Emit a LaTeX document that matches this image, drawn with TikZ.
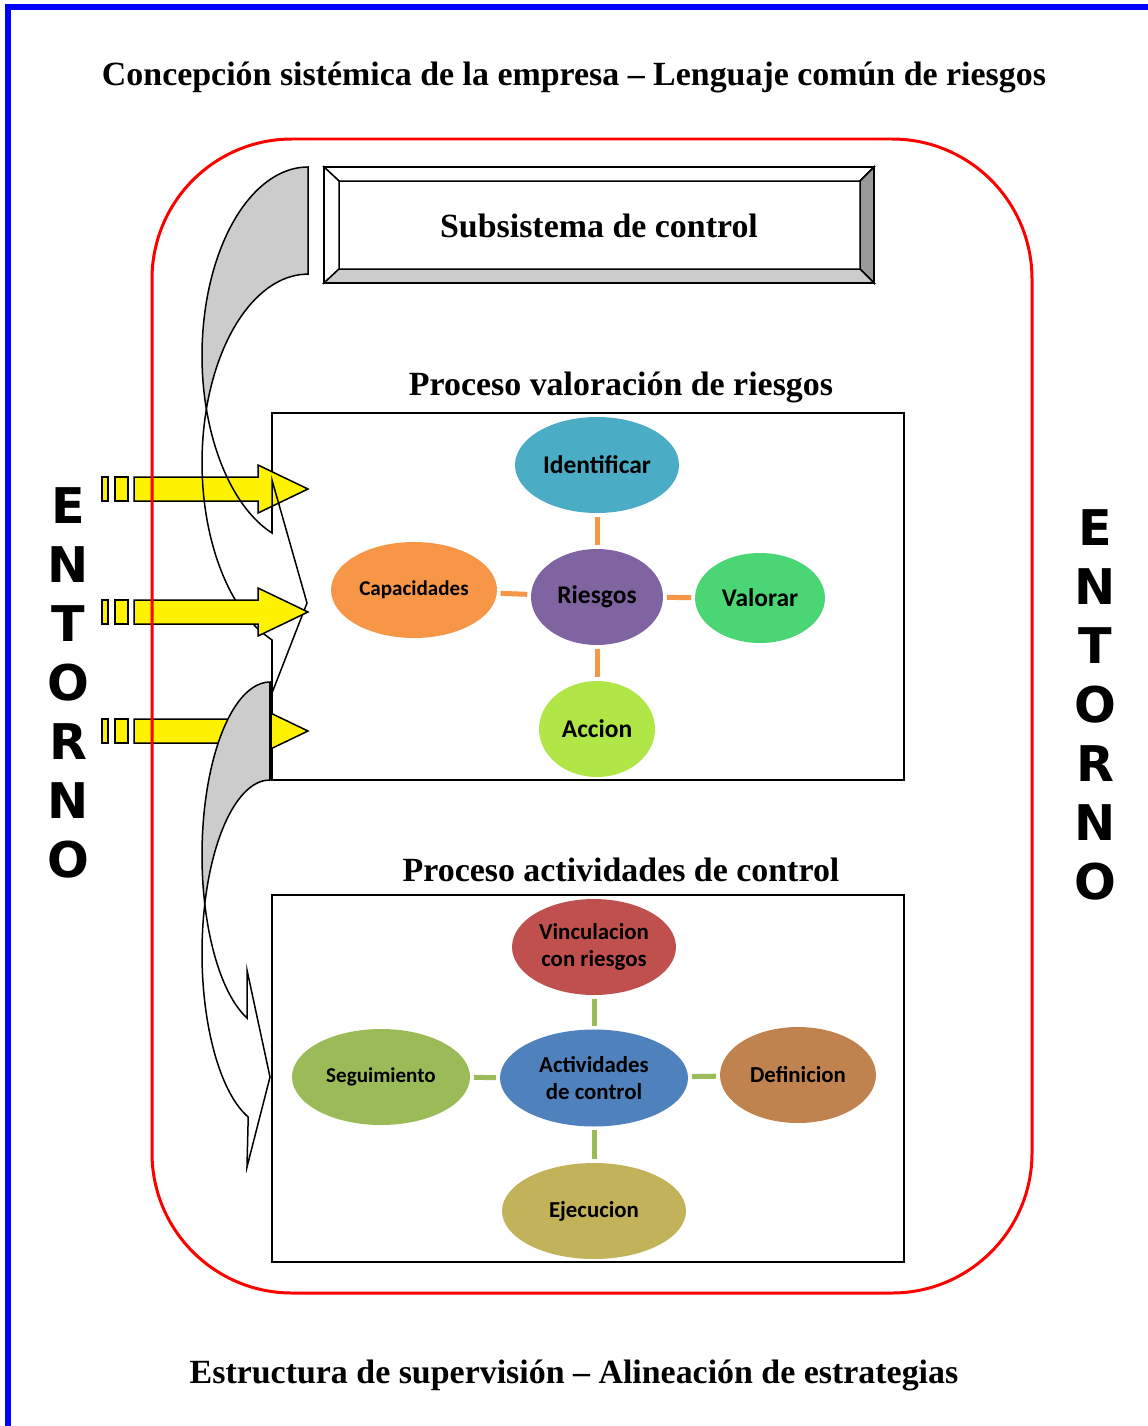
\documentclass[tikz,border=0pt]{standalone}
\usepackage{fontspec}
\setmainfont{Liberation Serif}
\newfontfamily\bubblefont{Carlito}
\newfontfamily\entornofont{DejaVu Sans}
\usetikzlibrary{shapes.geometric}
\definecolor{cIdent}{HTML}{4BACC6}
\definecolor{cRiesgo}{HTML}{8064A2}
\definecolor{cValorar}{HTML}{4AD675}
\definecolor{cAccion}{HTML}{B0E645}
\definecolor{cCapac}{HTML}{F79646}
\definecolor{cVincul}{HTML}{C0504D}
\definecolor{cActiv}{HTML}{4F81BD}
\definecolor{cSegui}{HTML}{9BBB59}
\definecolor{cDefin}{HTML}{C0834F}
\definecolor{cEjecu}{HTML}{C2B35A}
\definecolor{backgray}{HTML}{CCCCCC}
\definecolor{sidegray}{HTML}{999999}

\begin{document}
\begin{tikzpicture}[x=0.02cm,y=-0.02cm,
  heading/.style={inner sep=0pt, font=\fontsize{19.3}{23}\selectfont\bfseries},
  bubble/.style={ellipse, inner sep=0pt, align=center, font=\bubblefont\bfseries\fontsize{14.5}{15}\selectfont},
  riskline/.style={draw=cCapac, line width=0.1cm, shorten <=2pt, shorten >=2pt},
  ctrlline/.style={draw=cSegui, line width=0.1cm, shorten <=2pt, shorten >=2pt},
  yellowarrow/.style={fill=yellow, draw=black, line width=0.03cm},
  curvedline/.style={draw=black, line width=0.03cm},
  entorno/.style={align=center, inner sep=0pt, font=\entornofont\bfseries\fontsize{28}{33.6}\selectfont}]
\useasboundingbox (0,0) rectangle (1148,1426);
\fill[white] (0,0) rectangle (1148,1426);
\draw[blue, line width=0.12cm] (8,1440) -- (8,7) -- (1151,7) -- (1151,1440);

\node[heading] (titulo) at (574,77) {Concepción sistémica de la empresa – Lenguaje común de riesgos};
\node[heading] (pie) at (574,1375) {Estructura de supervisión – Alineación de estrategias};

\draw[line width=0.05cm] (272,413) rectangle (904,780);
\draw[line width=0.05cm] (272,895) rectangle (904,1262);
\node[heading] (valoracion) at (621,387) {Proceso valoración de riesgos};
\node[heading] (actividades) at (621,870) {Proceso actividades de control};

\node[bubble, fill=cIdent, minimum width=3.28cm, minimum height=1.92cm] (identificar) at (597,465) {Identificar};
\node[bubble, fill=cRiesgo, minimum width=2.64cm, minimum height=1.92cm] (riesgos) at (597,597) {Riesgos};
\node[bubble, fill=cValorar, minimum width=2.6cm, minimum height=1.8cm] (valorar) at (760,598) {Valorar};
\node[bubble, fill=cAccion, minimum width=2.32cm, minimum height=1.92cm] (accion) at (597,729) {Accion};
\node[bubble, fill=cCapac, minimum width=3.32cm, minimum height=1.92cm, font=\bubblefont\bfseries\fontsize{12}{14}\selectfont] (capacidades) at (414,590) {Capacidades};
\draw[riskline] (riesgos) -- (identificar);
\draw[riskline] (riesgos) -- (valorar);
\draw[riskline] (riesgos) -- (accion);
\draw[riskline] (riesgos) -- (capacidades);

\node[bubble, fill=cVincul, minimum width=3.28cm, minimum height=1.92cm, font=\bubblefont\bfseries\fontsize{13}{15}\selectfont] (vinculacion) at (594,947) {Vinculacion\\con riesgos};
\node[bubble, fill=cActiv, minimum width=3.76cm, minimum height=1.94cm, font=\bubblefont\bfseries\fontsize{13}{15}\selectfont] (actcontrol) at (594,1078) {Actividades\\de control};
\node[bubble, fill=cSegui, minimum width=3.56cm, minimum height=1.92cm, font=\bubblefont\bfseries\fontsize{12}{14}\selectfont] (seguimiento) at (381,1077) {Seguimiento};
\node[bubble, fill=cDefin, minimum width=3.12cm, minimum height=1.92cm, font=\bubblefont\bfseries\fontsize{13}{15}\selectfont] (definicion) at (798,1075) {Definicion};
\node[bubble, fill=cEjecu, minimum width=3.68cm, minimum height=1.92cm, font=\bubblefont\bfseries\fontsize{13}{15}\selectfont] (ejecucion) at (594,1211) {Ejecucion};
\draw[ctrlline] (actcontrol) -- (vinculacion);
\draw[ctrlline] (actcontrol) -- (definicion);
\draw[ctrlline] (actcontrol) -- (ejecucion);
\draw[ctrlline] (actcontrol) -- (seguimiento);

\draw[line width=0.03cm, fill=white] (324,167) -- (874,167) -- (860,181) -- (339,181) -- cycle;
\draw[line width=0.03cm, fill=white] (324,167) -- (339,181) -- (339,269) -- (324,283) -- cycle;
\draw[line width=0.03cm, fill=sidegray] (874,167) -- (874,283) -- (860,269) -- (860,181) -- cycle;
\draw[line width=0.03cm, fill=backgray] (324,283) -- (874,283) -- (860,269) -- (339,269) -- cycle;
\draw[line width=0.05cm] (324,167) rectangle (874,283);
\node[heading] (subsistema) at (599,226) {Subsistema de control};

\fill[white] (206.4,409.1) arc[start angle=-163.5, end angle=-244.3, x radius=106, y radius=188.6] -- (272,640) -- (272,693) -- (307,603) -- (272,480) -- (272,533) arc[start angle=-250.1, end angle=-196.5, x radius=106, y radius=188.6] -- cycle;

\filldraw[yellowarrow] (102,477) rectangle (108,501);
\filldraw[yellowarrow] (115,477) rectangle (128,501);
\filldraw[yellowarrow] (134,477) -- (258,477) -- (258,465) -- (308,489) -- (258,513) -- (258,501) -- (134,501) -- cycle;
\filldraw[yellowarrow] (102,719) rectangle (108,743);
\filldraw[yellowarrow] (115,719) rectangle (128,743);
\filldraw[yellowarrow] (134,719) -- (258,719) -- (258,707) -- (308,731) -- (258,755) -- (258,743) -- (134,743) -- cycle;

\filldraw[curvedline, fill=backgray] (308,167) arc[start angle=-90, end angle=-196.5, x radius=106, y radius=188.6] arc[start angle=-163.5, end angle=-90, x radius=106, y radius=188.6] -- cycle;
\draw[curvedline] (206.4,409.1) arc[start angle=-163.5, end angle=-244.3, x radius=106, y radius=188.6] -- (272,640) -- (272,693) -- (307,603) -- (272,480) -- (272,533) arc[start angle=-250.1, end angle=-196.5, x radius=106, y radius=188.6] -- cycle;

\filldraw[yellowarrow] (102,600) rectangle (108,624);
\filldraw[yellowarrow] (115,600) rectangle (128,624);
\filldraw[yellowarrow] (134,600) -- (258,600) -- (258,588) -- (308,612) -- (258,636) -- (258,624) -- (134,624) -- cycle;

\filldraw[curvedline, fill=white] (204.8,904.1) arc[start angle=-163.56, end angle=-251.3, x radius=68, y radius=173.1] -- (247,1167) -- (270,1077) -- (247,970) -- (247,1018) arc[start angle=-250.2, end angle=-196.44, x radius=68, y radius=173.1] -- cycle;
\filldraw[curvedline, fill=backgray] (270,682) arc[start angle=-90, end angle=-196.44, x radius=68, y radius=173.1] arc[start angle=-163.56, end angle=-90, x radius=68, y radius=173.1] -- cycle;
\draw[line width=0.06cm] (270,682) -- (270,780);

\draw[red, line width=0.06cm, rounded corners=2.8cm] (152,139) rectangle (1032,1293);

\node[entorno] (entornoizq) at (68,683) {E\\N\\T\\O\\R\\N\\O};
\node[entorno] (entornoder) at (1095,705) {E\\N\\T\\O\\R\\N\\O};
\end{tikzpicture}
\end{document}
